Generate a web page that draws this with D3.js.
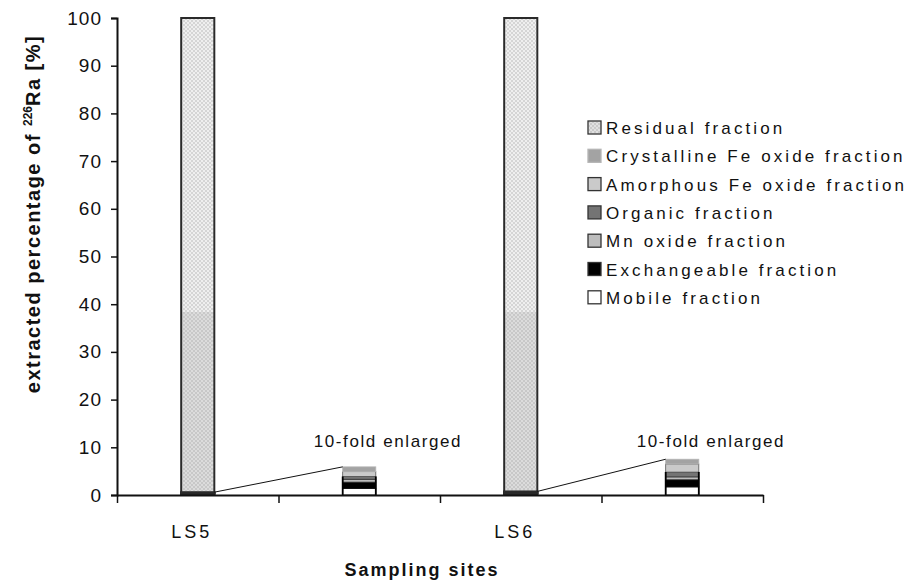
<!DOCTYPE html>
<html>
<head>
<meta charset="utf-8">
<script src="https://cdn.jsdelivr.net/npm/d3@7"></script>
<style>
  body { margin: 0; background: #fff; }
  text { font-family: "Liberation Sans", Arial, sans-serif; }
</style>
</head>
<body>
<script>
// sites and fractions (values in % of total 226Ra)
var sites = ["LS5", "LS6"];
var slots = ["LS5", "LS5 x10", "LS6", "LS6 x10"];
var fractions = ["Mobile fraction", "Exchangeable fraction", "Mn oxide fraction", "Organic fraction",
                 "Amorphous Fe oxide fraction", "Crystalline Fe oxide fraction", "Residual fraction"];
var mobile        = [0.14, 0.17];
var exchangeable  = [0.13, 0.15];
var mnOxide       = [0.06, 0.06];
var organic       = [0.06, 0.10];
var amorphousFe   = [0.10, 0.17];
var crystallineFe = [0.10, 0.10];
var residual      = [99.41, 99.25];
var yTicks = [0, 10, 20, 30, 40, 50, 60, 70, 80, 90, 100];
var enlargeFactor = 10;
var enlargedLabel = "10-fold enlarged";

var margin = {top: 18, right: 151, bottom: 92, left: 117},
    width = 914 - margin.left - margin.right,
    height = 587 - margin.top - margin.bottom;

var svg = d3.select("body").append("svg")
    .attr("width", 914)
    .attr("height", 587);

var defs = svg.append("defs");
var grad = defs.append("linearGradient")
    .attr("id", "resGrad")
    .attr("x1", 0).attr("y1", 0).attr("x2", 0).attr("y2", 1);
grad.append("stop").attr("offset", "0.62").attr("stop-color", "#efefef");
grad.append("stop").attr("offset", "0.62").attr("stop-color", "#dcdcdc");
var pat = defs.append("pattern")
    .attr("id", "checker")
    .attr("patternUnits", "userSpaceOnUse")
    .attr("width", 4).attr("height", 4);
pat.append("rect").attr("width", 2).attr("height", 2).attr("fill", "#999").attr("fill-opacity", 0.3);
pat.append("rect").attr("x", 2).attr("y", 2).attr("width", 2).attr("height", 2).attr("fill", "#999").attr("fill-opacity", 0.3);

var g = svg.append("g")
    .attr("transform", "translate(" + margin.left + "," + margin.top + ")");

var x = d3.scaleBand().domain(slots).range([0, width]).padding(0);
var xTicks = d3.scaleLinear().domain([0, slots.length]).range([0, width]);
var y = d3.scaleLinear().domain([0, 100]).range([height, 0]);
var barW = x.bandwidth() * 0.205;

var fill = d3.scaleOrdinal().domain(fractions)
    .range(["#ffffff", "#000000", "#bdbdbd", "#747474", "#cacaca", "#a3a3a3", "#e0e0e0"]);
var stroke = d3.scaleOrdinal().domain(fractions)
    .range(["#222", "#000", "#333", "#333", "#555", "#b5b5b5", "#333"]);

var table = sites.map(function(s, i) {
  return {site: s, "Mobile fraction": mobile[i], "Exchangeable fraction": exchangeable[i],
          "Mn oxide fraction": mnOxide[i], "Organic fraction": organic[i],
          "Amorphous Fe oxide fraction": amorphousFe[i], "Crystalline Fe oxide fraction": crystallineFe[i],
          "Residual fraction": residual[i]};
});
var stack = d3.stack().keys(fractions)(table);
var small = d3.stack().keys(fractions.slice(0, 6))(table);

// full bars
stack.forEach(function(layer) {
  var isRes = layer.key == "Residual fraction";
  g.selectAll(null).data(layer).enter().append("rect")
    .attr("x", function(d) { return x(d.data.site) + (x.bandwidth() - barW) / 2; })
    .attr("y", function(d) { return y(d[1]); })
    .attr("width", barW)
    .attr("height", function(d) { return y(d[0]) - y(d[1]); })
    .attr("fill", isRes ? "url(#resGrad)" : "#555")
    .attr("stroke", "#2a2a2a")
    .attr("stroke-width", 2);
  if (isRes) {
    g.selectAll(null).data(layer).enter().append("rect")
      .attr("x", function(d) { return x(d.data.site) + (x.bandwidth() - barW) / 2 + 1; })
      .attr("y", function(d) { return y(d[1]) + 1; })
      .attr("width", barW - 2)
      .attr("height", function(d) { return y(d[0]) - y(d[1]) - 2; })
      .attr("fill", "url(#checker)");
  }
});

// 10-fold enlarged bars
small.forEach(function(layer) {
  g.selectAll(null).data(layer).enter().append("rect")
    .attr("x", function(d) { return x(d.data.site + " x10") + (x.bandwidth() - barW) / 2; })
    .attr("y", function(d) { return y(d[1] * enlargeFactor); })
    .attr("width", barW)
    .attr("height", function(d) { return y(d[0] * enlargeFactor) - y(d[1] * enlargeFactor); })
    .attr("fill", fill(layer.key))
    .attr("stroke", stroke(layer.key))
    .attr("stroke-width", 0.8);
});
// black sides of enlarged bars (below the Fe oxide bands)
var sideTop = small[3];
g.selectAll(null).data(sideTop).enter().append("path")
  .attr("d", function(d) {
    var x0 = x(d.data.site + " x10") + (x.bandwidth() - barW) / 2;
    return "M" + x0 + "," + y(0) + "V" + y(d[1] * enlargeFactor) +
           "M" + (x0 + barW) + "," + y(0) + "V" + y(d[1] * enlargeFactor);
  })
  .attr("stroke", "#000").attr("stroke-width", 1.8).attr("fill", "none");

// connector lines
var topSmall = small[small.length - 1];
g.selectAll(null).data(topSmall).enter().append("line")
  .attr("x1", function(d) { return x(d.data.site) + (x.bandwidth() + barW) / 2; })
  .attr("y1", function(d) { return y(d[1]); })
  .attr("x2", function(d) { return x(d.data.site + " x10") + (x.bandwidth() - barW) / 2; })
  .attr("y2", function(d) { return y(d[1] * enlargeFactor); })
  .attr("stroke", "#111").attr("stroke-width", 1);

g.selectAll(null).data(topSmall).enter().append("text")
  .attr("x", function(d) { return x(d.data.site + " x10") + (x.bandwidth() - barW) / 2 - 29; })
  .attr("y", y(10))
  .style("font-size", "17px")
  .style("letter-spacing", "1.6px")
  .attr("fill", "#111")
  .text(enlargedLabel);

// y axis
var yAxis = g.append("g")
    .call(d3.axisLeft(y).tickValues(yTicks).tickSize(6).tickPadding(9));
yAxis.select(".domain").attr("stroke", "#111").attr("stroke-width", 2);
yAxis.selectAll(".tick line").attr("stroke", "#111").attr("stroke-width", 1.5);
yAxis.selectAll(".tick text").style("font-size", "19px").attr("fill", "#111")
    .style("letter-spacing", "1px")
    .style("font-family", "'Liberation Sans', Arial, sans-serif");

// x axis
var xAxis = g.append("g")
    .attr("transform", "translate(0," + height + ")")
    .call(d3.axisBottom(xTicks).tickValues(d3.range(slots.length + 1)).tickFormat("").tickSize(8).tickSizeOuter(0));
xAxis.select(".domain").attr("stroke", "#111").attr("stroke-width", 2);
xAxis.selectAll(".tick line").attr("stroke", "#111").attr("stroke-width", 1.5);

g.selectAll(null).data(sites).enter().append("text")
  .attr("x", function(d) { return x(d) + x.bandwidth() / 2 - 6; })
  .attr("y", height + 43)
  .attr("text-anchor", "middle")
  .style("font-size", "18px")
  .style("letter-spacing", "3px")
  .attr("fill", "#111")
  .text(function(d) { return d; });

// axis titles
g.append("text")
  .attr("x", width / 2 - 18)
  .attr("y", height + 81)
  .attr("text-anchor", "middle")
  .style("font-size", "18px")
  .style("font-weight", "bold")
  .style("letter-spacing", "2px")
  .attr("fill", "#111")
  .text("Sampling sites");

var yt = svg.append("text")
  .attr("transform", "translate(40," + 214 + ") rotate(-90)")
  .attr("text-anchor", "middle")
  .style("font-size", "20px")
  .style("font-weight", "bold")
  .style("letter-spacing", "1.5px")
  .attr("fill", "#111");
yt.append("tspan").text("extracted percentage of ");
yt.append("tspan").attr("dy", -8).style("font-size", "12px").style("letter-spacing", "0px").text("226");
yt.append("tspan").attr("dy", 8).text("Ra [%]");

// legend
var legendItems = fractions.slice().reverse();
var legend = svg.append("g").attr("transform", "translate(588,121)");
var rows = legend.selectAll("g").data(legendItems).enter().append("g")
  .attr("transform", function(d, i) { return "translate(0," + i * 28.3 + ")"; });
rows.append("rect")
  .attr("width", 13).attr("height", 13)
  .attr("fill", function(d) { return fill(d); })
  .attr("stroke", function(d) { return d == "Crystalline Fe oxide fraction" ? "#b5b5b5" : "#333"; })
  .attr("stroke-width", 1.3);
rows.filter(function(d) { return d == "Residual fraction"; }).append("rect")
  .attr("x", 1).attr("y", 1).attr("width", 11).attr("height", 11).attr("fill", "url(#checker)");
rows.append("text")
  .attr("x", 18).attr("y", 13)
  .style("font-size", "17px")
  .style("letter-spacing", "3.1px")
  .attr("fill", "#111")
  .text(function(d) { return d; });
</script>
</body>
</html>
